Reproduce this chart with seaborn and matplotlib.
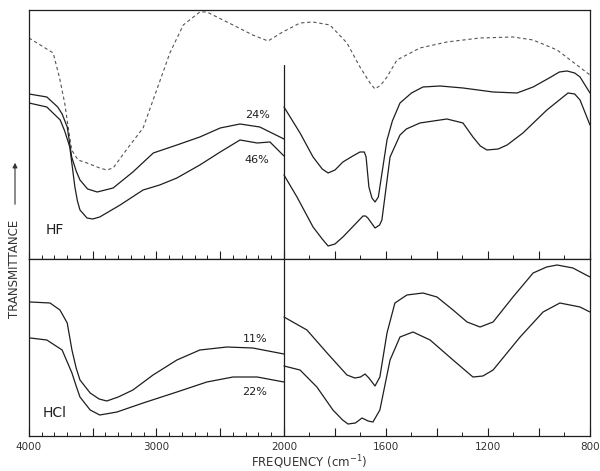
import numpy as np
import matplotlib
matplotlib.use("Agg")
import matplotlib.pyplot as plt
import seaborn as sns
from matplotlib.ticker import FixedLocator

# --- data (wavenumber in cm-1, transmittance in arbitrary units) ---
# top panel (HF), reference dashed trace
ref_w = [4000, 3810, 3760, 3720, 3695, 3665, 3615, 3545, 3445, 3390, 3340, 3225, 3105,
         2990, 2895, 2790, 2660, 2605, 2400, 2245, 2125, 2010, 1937, 1886, 1820, 1753,
         1702, 1660, 1643, 1620, 1596, 1557, 1467, 1361, 1231, 1102, 1023, 929, 867, 800]
ref_t = [221, 206, 181, 156, 134, 109, 99, 96, 91, 89, 91, 111, 131,
         172, 206, 234, 247, 247, 234, 224, 218, 227, 236, 237, 234, 216,
         192, 175, 170, 174, 182, 199, 211, 217, 221, 222, 219, 209, 197, 184]

# HF 24 %
hf24_left_w = [4000, 3860, 3775, 3740, 3700, 3665, 3630, 3600, 3540, 3465, 3340, 3185,
               3025, 2840, 2660, 2500, 2345, 2190, 2000]
hf24_left_t = [165, 162, 152, 145, 132, 102, 88, 79, 70, 67, 71, 87,
               106, 114, 122, 131, 135, 132, 120]
hf24_right_w = [2000, 1937, 1886, 1850, 1827, 1800, 1769, 1730, 1702, 1685, 1678, 1667,
                1655, 1643, 1630, 1624, 1596, 1575, 1545, 1500, 1455, 1388, 1298, 1180,
                1086, 1023, 960, 920, 890, 860, 839, 800]
hf24_right_t = [152, 126, 102, 90, 86, 89, 97, 103, 107, 107, 102, 72,
                61, 57, 62, 72, 119, 138, 156, 166, 172, 173, 171, 167,
                166, 172, 181, 187, 188, 186, 182, 166]

# HF 46 %
hf46_left_w = [4000, 3860, 3755, 3720, 3680, 3640, 3620, 3600, 3545, 3500, 3445, 3285,
               3105, 2975, 2840, 2660, 2500, 2345, 2210, 2110, 2000]
hf46_left_t = [156, 152, 139, 128, 112, 72, 58, 49, 41, 40, 42, 54,
               69, 74, 81, 94, 107, 119, 116, 117, 103]
hf46_right_w = [2000, 1949, 1886, 1850, 1827, 1800, 1769, 1690, 1680, 1671, 1643, 1625,
                1616, 1584, 1545, 1520, 1467, 1361, 1298, 1259, 1230, 1204, 1160, 1125,
                1063, 969, 886, 860, 839, 800]
hf46_right_t = [84, 62, 32, 20, 13, 15, 22, 43, 43, 41, 31, 34,
                39, 102, 124, 130, 136, 140, 136, 122, 113, 109, 110, 114,
                126, 149, 166, 165, 159, 134]

# bottom panel (HCl), 11 %
hcl11_left_w = [3990, 3835, 3757, 3700, 3663, 3630, 3600, 3520, 3450, 3390, 3300, 3185,
                3027, 2840, 2660, 2447, 2245, 2000]
hcl11_left_t = [134, 133, 126, 113, 86, 68, 56, 43, 37, 35, 39, 46,
                61, 76, 86, 89, 88, 82]
hcl11_right_w = [2000, 1910, 1831, 1753, 1722, 1700, 1682, 1667, 1643, 1624, 1596, 1565,
                 1518, 1455, 1400, 1337, 1282, 1231, 1180, 1102, 1023, 970, 929, 867, 800]
hcl11_right_t = [119, 106, 83, 61, 58, 59, 62, 58, 50, 59, 103, 133,
                 141, 143, 139, 126, 114, 109, 114, 139, 163, 169, 171, 168, 159]

# HCl 22 %
hcl22_left_w = [3990, 3860, 3740, 3663, 3630, 3600, 3520, 3445, 3310, 3105, 2840, 2605,
                2400, 2210, 2000]
hcl22_left_t = [98, 96, 86, 63, 50, 39, 26, 21, 24, 33, 44, 54, 59, 59, 54]
hcl22_right_w = [2000, 1937, 1871, 1808, 1770, 1749, 1720, 1694, 1670, 1651, 1624, 1584,
                 1545, 1494, 1427, 1337, 1259, 1220, 1180, 1074, 984, 918, 839, 800]
hcl22_right_t = [70, 66, 49, 26, 16, 12, 13, 18, 15, 14, 26, 76,
                 99, 104, 96, 76, 59, 60, 66, 99, 124, 133, 129, 124]

major_ticks = [4000, 3500, 3000, 2500, 2000, 1800, 1600, 1400, 1200, 1000, 800]
major_labels = ["4000", "", "3000", "", "2000", "", "1600", "", "1200", "", "800"]
minor_ticks = list(range(800, 4001, 100))

INK = "#1e1e1e"


# IR chart paper: the 4000-2000 region is drawn at half the scale of 2000-800
def fwd(w):
    w = np.asarray(w, dtype=float)
    return np.where(w > 2000, 2000 + (w - 2000) * 0.5, w)


def inv(v):
    v = np.asarray(v, dtype=float)
    return np.where(v > 2000, 2000 + (v - 2000) * 2.0, v)


def trace(ax, w, t, **kw):
    sns.lineplot(x=w, y=t, ax=ax, sort=False, estimator=None, color=INK,
                 linewidth=0.9, **kw)


def main():
    sns.set_style("ticks")
    plt.rcParams["font.family"] = ["DejaVu Sans"]

    fig, (ax1, ax2) = plt.subplots(2, 1, figsize=(6, 4.71), dpi=100, sharex=True,
                                   gridspec_kw={"height_ratios": [249, 177], "hspace": 0})
    fig.subplots_adjust(left=0.0483, right=0.9833, top=0.9788, bottom=0.0743)

    for ax in (ax1, ax2):
        ax.set_xscale("function", functions=(fwd, inv))

    # top panel: HF
    sns.lineplot(x=ref_w, y=ref_t, ax=ax1, sort=False, estimator=None, color="#555555",
                 linewidth=0.8, linestyle=(0, (3, 2.5)))
    trace(ax1, hf24_left_w, hf24_left_t)
    trace(ax1, hf24_right_w, hf24_right_t)
    trace(ax1, hf46_left_w, hf46_left_t)
    trace(ax1, hf46_right_w, hf46_right_t)
    ax1.set_ylim(0, 249)
    ax1.axvline(2000, ymin=0, ymax=0.78, color=INK, lw=0.9)
    ax1.text(2210, 144, "24%", fontsize=8, ha="center", va="center", color=INK)
    ax1.text(2210, 99, "46%", fontsize=8, ha="center", va="center", color=INK)
    ax1.text(3800, 29, "HF", fontsize=10, ha="center", va="center", color=INK)

    # bottom panel: HCl
    trace(ax2, hcl11_left_w, hcl11_left_t)
    trace(ax2, hcl11_right_w, hcl11_right_t)
    trace(ax2, hcl22_left_w, hcl22_left_t)
    trace(ax2, hcl22_right_w, hcl22_right_t)
    ax2.set_ylim(0, 177)
    ax2.axvline(2000, color=INK, lw=0.9)
    ax2.text(2230, 97, "11%", fontsize=8, ha="center", va="center", color=INK)
    ax2.text(2230, 44, "22%", fontsize=8, ha="center", va="center", color=INK)
    ax2.text(3800, 23, "HCl", fontsize=10, ha="center", va="center", color=INK)

    for ax in (ax1, ax2):
        ax.set_xlim(4000, 800)
        ax.set_yticks([])
        ax.set_ylabel("")
        ax.set_xticks(major_ticks)
        ax.xaxis.set_minor_locator(FixedLocator(minor_ticks))
        ax.tick_params(axis="x", which="both", bottom=True, top=False, direction="in")
        ax.tick_params(axis="x", which="major", length=6, width=0.8,
                       color=INK, labelsize=7.5, labelcolor="#333333", pad=4)
        ax.tick_params(axis="x", which="minor", length=3, width=0.7, color=INK)
        for sp in ax.spines.values():
            sp.set_visible(True)
            sp.set_color(INK)
            sp.set_linewidth(0.9)
    ax1.tick_params(axis="x", labelbottom=False)
    ax2.set_xticklabels(major_labels)
    ax2.set_xlabel("FREQUENCY (cm$^{-1}$)", fontsize=8.5, color="#333333", labelpad=1)

    fig.text(15 / 600, 1 - 269 / 471, "TRANSMITTANCE", rotation=90, ha="center",
             va="center", fontsize=8.5, color="#333333")
    fig.patches.append(matplotlib.patches.FancyArrowPatch(
        (15 / 600, 1 - 207 / 471), (15 / 600, 1 - 160 / 471), transform=fig.transFigure,
        arrowstyle="-|>", mutation_scale=7, lw=0.8, color="#333333"))

    fig.savefig("out.png", dpi=100)


if __name__ == "__main__":
    main()
